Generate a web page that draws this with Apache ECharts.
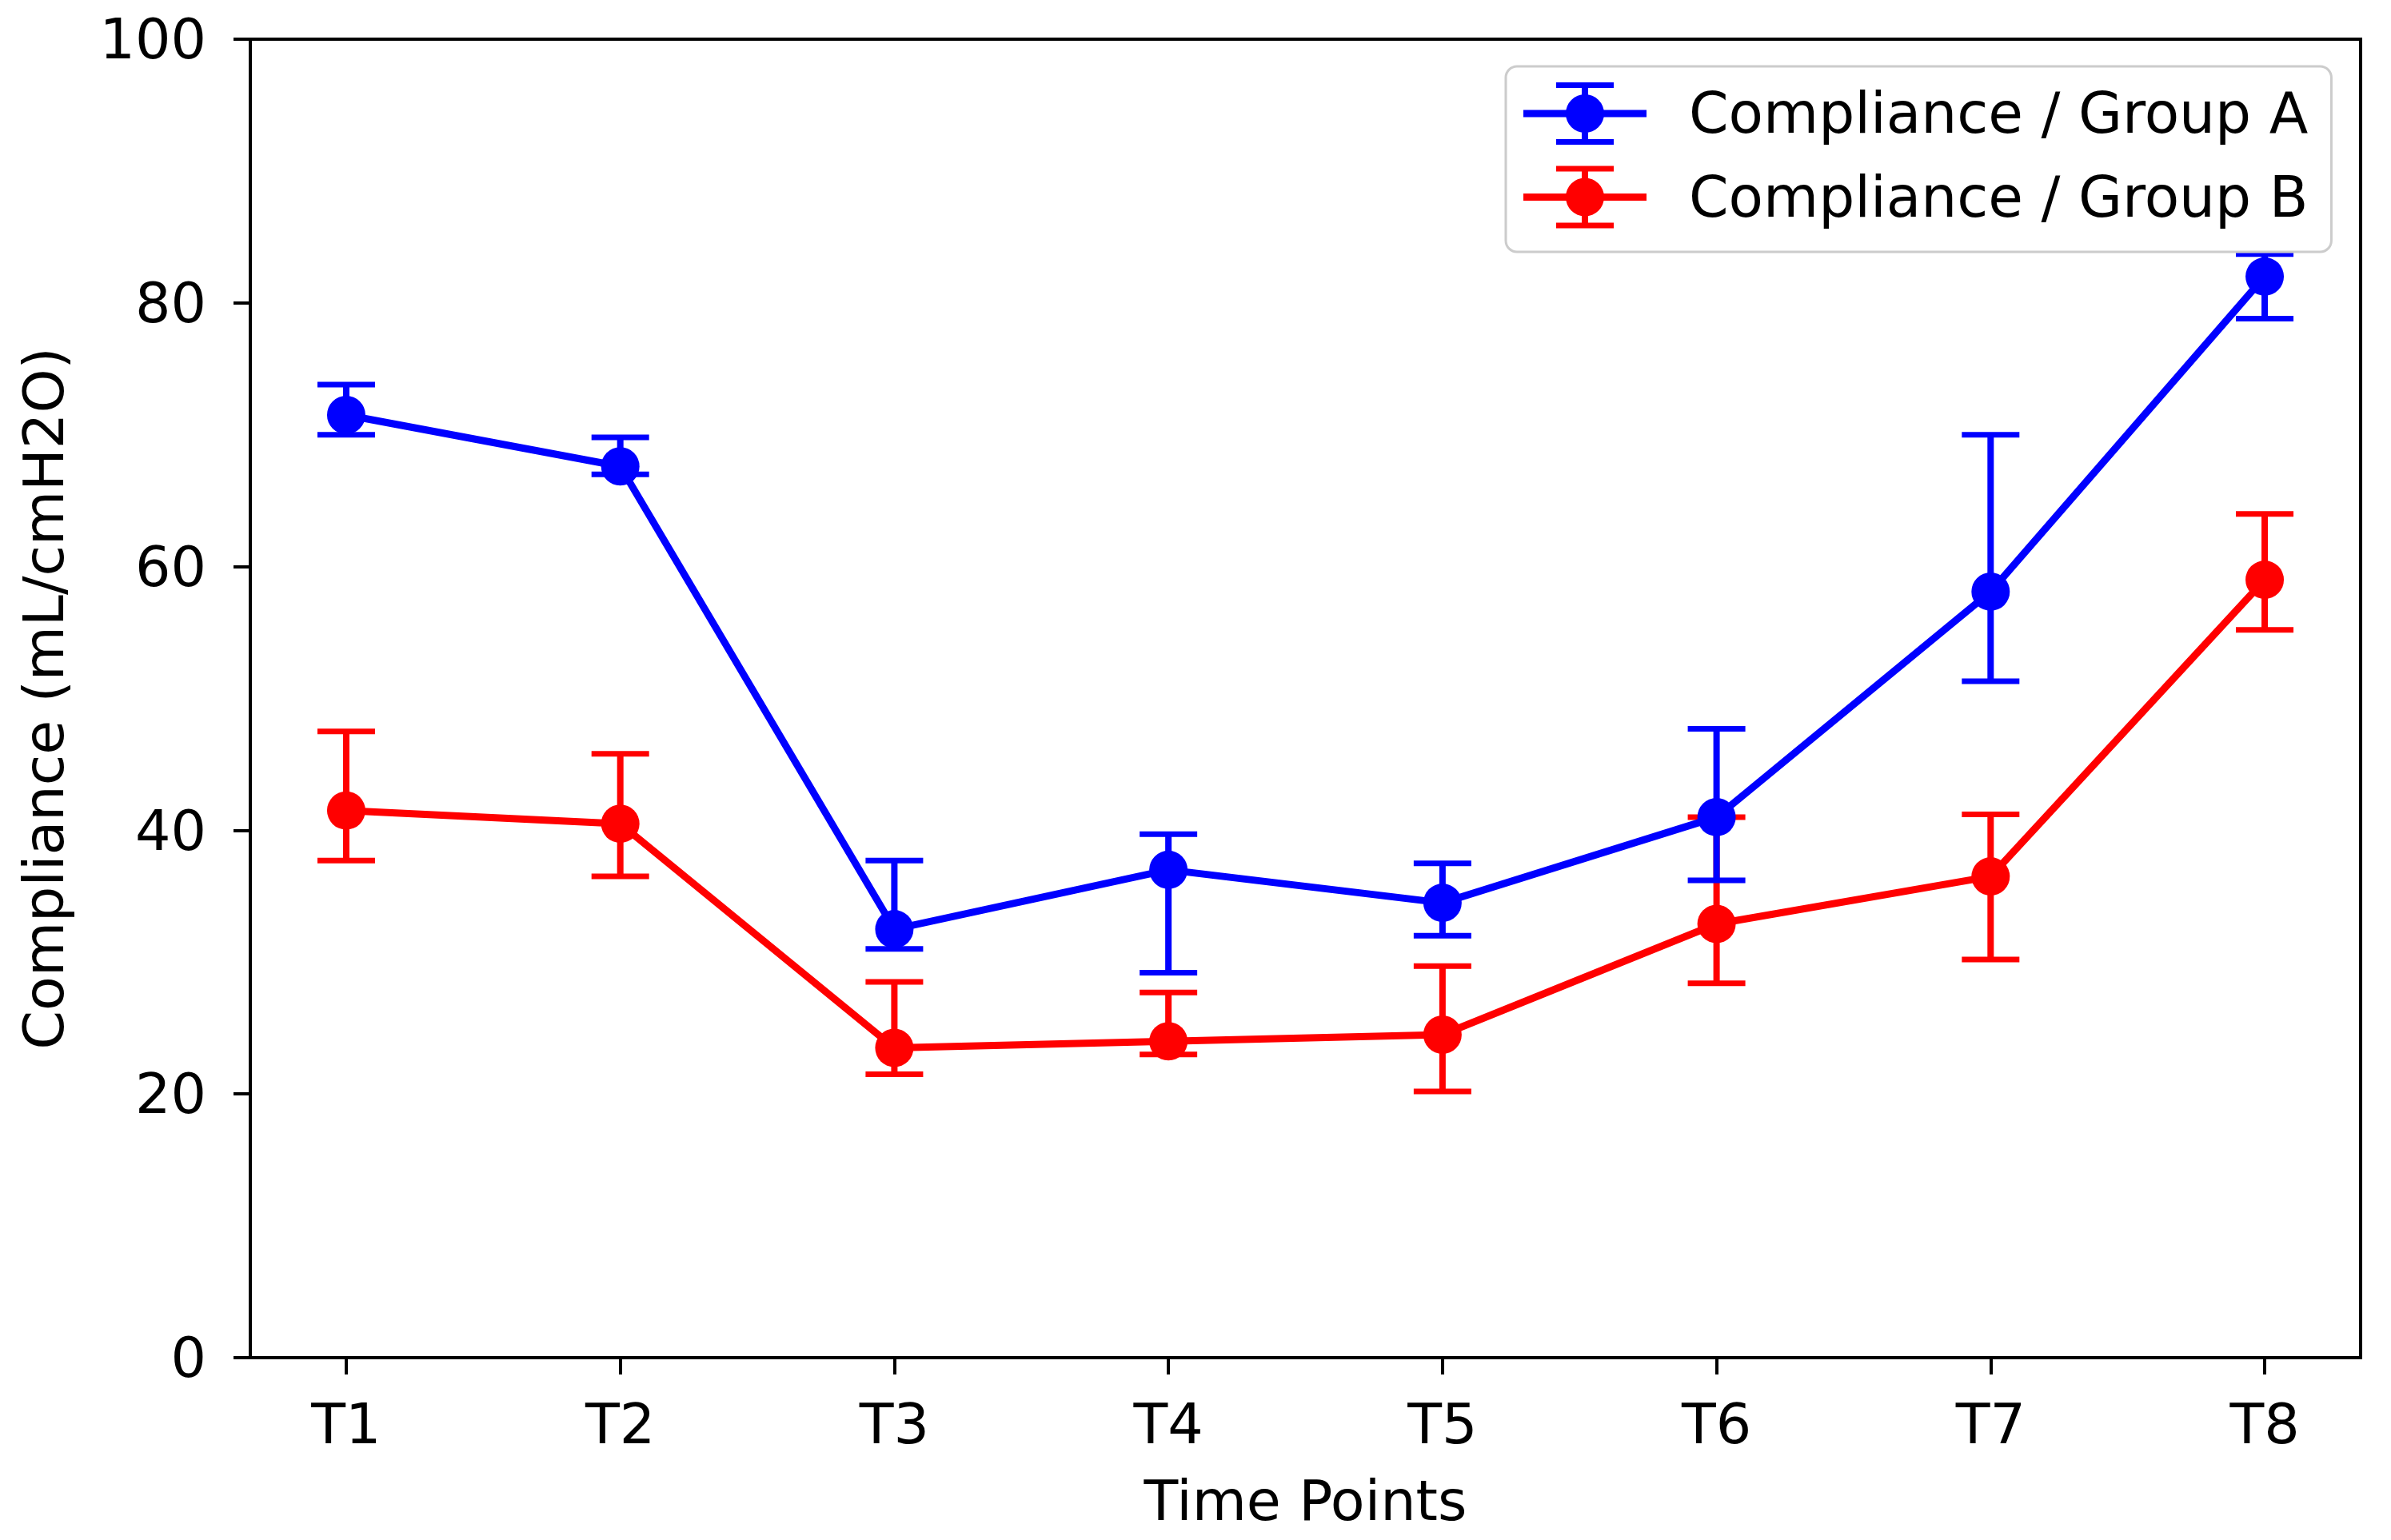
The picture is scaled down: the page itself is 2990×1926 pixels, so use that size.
<!DOCTYPE html>
<html>
<head>
<meta charset="utf-8">
<script src="https://cdn.jsdelivr.net/npm/echarts@6/dist/echarts.min.js"></script>
<style>html,body{margin:0;padding:0;background:#fff}#c{width:2990px;height:1926px}</style>
</head>
<body>
<div id="c"></div>
<script>
var categories = ['T1','T2','T3','T4','T5','T6','T7','T8'];
var groupAMean  = [71.5, 67.6, 32.5, 37.0, 34.5, 41.0, 58.1, 82.0];
var groupAUpper = [73.8, 69.8, 37.7, 39.7, 37.5, 47.7, 70.0, 83.7];
var groupALower = [70.0, 67.0, 31.0, 29.2, 32.0, 36.2, 51.3, 78.8];
var groupBMean  = [41.5, 40.5, 23.5, 24.0, 24.5, 32.9, 36.5, 59.0];
var groupBUpper = [47.5, 45.8, 28.5, 27.7, 29.7, 41.0, 41.2, 64.0];
var groupBLower = [37.7, 36.5, 21.5, 23.0, 20.2, 28.4, 30.2, 55.2];
var yTicks = [0, 20, 40, 60, 80, 100];
var nameA = 'Compliance / Group A';
var nameB = 'Compliance / Group B';

var FONT = 'DejaVu Sans';
var idx = categories.map(function (c, i) { return i; });

function pts(arr) { return arr.map(function (v, i) { return [i, v]; }); }
function errData(lo, hi) { return lo.map(function (v, i) { return [i, v, hi[i]]; }); }

function errRender(color) {
  return function (params, api) {
    var x = api.value(0), lo = api.value(1), hi = api.value(2);
    var pHi = api.coord([x, hi]);
    var pLo = api.coord([x, lo]);
    var hw = 36;
    return {
      type: 'group',
      children: [
        { type: 'line', shape: { x1: pHi[0], y1: pHi[1], x2: pLo[0], y2: pLo[1] }, style: { stroke: color, lineWidth: 8 } },
        { type: 'line', shape: { x1: pHi[0] - hw, y1: pHi[1], x2: pHi[0] + hw, y2: pHi[1] }, style: { stroke: color, lineWidth: 7 } },
        { type: 'line', shape: { x1: pLo[0] - hw, y1: pLo[1], x2: pLo[0] + hw, y2: pLo[1] }, style: { stroke: color, lineWidth: 7 } }
      ]
    };
  };
}

var iconPath = 'path://M0 34.5 L154 34.5 L154 43.5 L0 43.5 Z ' +
  'M73 0 L81 0 L81 78 L73 78 Z ' +
  'M41 0 L113 0 L113 7 L41 7 Z ' +
  'M41 71 L113 71 L113 78 L41 78 Z ' +
  'M53 39 A24 24 0 1 1 101 39 A24 24 0 1 1 53 39 Z';

var chart = echarts.init(document.getElementById('c'));
chart.setOption({
  animation: false,
  backgroundColor: '#ffffff',
  grid: { left: 313, right: 38, top: 49, bottom: 228, show: true, borderColor: '#000', borderWidth: 4, backgroundColor: 'transparent' },
  legend: {
    orient: 'vertical', left: 1883, top: 83,
    padding: [20, 29, 27, 22], itemGap: 24, itemWidth: 154, itemHeight: 78,
    backgroundColor: 'rgba(255,255,255,0.8)', borderColor: '#cccccc', borderWidth: 3, borderRadius: 14,
    formatter: function (n) { return '{t|' + n + '}'; },
    textStyle: { fontSize: 71, fontFamily: FONT, color: '#000',
      rich: { t: { fontSize: 71, fontFamily: FONT, color: '#000', padding: [12, 0, 0, 48] } } },
    selectedMode: false,
    data: [
      { name: nameA, icon: iconPath, itemStyle: { color: '#0000ff' } },
      { name: nameB, icon: iconPath, itemStyle: { color: '#ff0000' } }
    ]
  },
  xAxis: {
    type: 'value', min: -0.35, max: 7.35,
    name: 'Time Points', nameLocation: 'middle', nameGap: 150,
    nameTextStyle: { fontSize: 70, fontFamily: FONT, color: '#000' },
    axisLine: { show: true, onZero: false, lineStyle: { color: '#000', width: 4 } },
    axisTick: { show: true, customValues: idx, length: 21, lineStyle: { color: '#000', width: 4 } },
    axisLabel: { customValues: idx, margin: 54, fontSize: 70, fontFamily: FONT, color: '#000',
      formatter: function (v) { return categories[Math.round(v)]; } },
    splitLine: { show: false }
  },
  yAxis: {
    type: 'value', min: 0, max: 100, interval: 20,
    name: 'Compliance (mL/cmH2O)', nameLocation: 'middle', nameGap: 217,
    nameTextStyle: { fontSize: 70, fontFamily: FONT, color: '#000' },
    axisLine: { show: true, onZero: false, lineStyle: { color: '#000', width: 4 } },
    axisTick: { show: true, customValues: yTicks, length: 21, lineStyle: { color: '#000', width: 4 } },
    axisLabel: { customValues: yTicks, margin: 55, fontSize: 70, fontFamily: FONT, color: '#000',
      formatter: function (v) { return '{t|' + v + '}'; },
      rich: { t: { fontSize: 70, fontFamily: FONT, color: '#000', padding: [12, 0, 0, 0] } } },
    splitLine: { show: false }
  },
  series: [
    { type: 'custom', name: 'errB', z: 1, renderItem: errRender('#ff0000'), data: errData(groupBLower, groupBUpper), encode: { x: 0, y: [1, 2] }, silent: true },
    { type: 'line', name: nameB, z: 2, data: pts(groupBMean), symbol: 'circle', symbolSize: 48,
      lineStyle: { color: '#ff0000', width: 9 }, itemStyle: { color: '#ff0000' }, emphasis: { disabled: true } },
    { type: 'custom', name: 'errA', z: 3, renderItem: errRender('#0000ff'), data: errData(groupALower, groupAUpper), encode: { x: 0, y: [1, 2] }, silent: true },
    { type: 'line', name: nameA, z: 4, data: pts(groupAMean), symbol: 'circle', symbolSize: 48,
      lineStyle: { color: '#0000ff', width: 9 }, itemStyle: { color: '#0000ff' }, emphasis: { disabled: true } }
  ]
});
</script>
</body>
</html>
